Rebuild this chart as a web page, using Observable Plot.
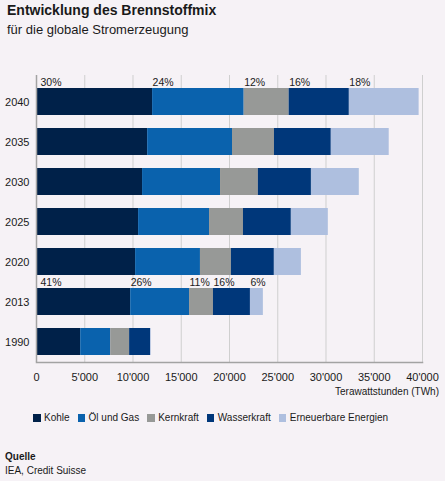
<!DOCTYPE html>
<html>
<head>
<meta charset="utf-8">
<script src="https://cdn.jsdelivr.net/npm/d3@7"></script>
<script src="https://cdn.jsdelivr.net/npm/@observablehq/plot@0.6"></script>
<style>
  html, body { margin: 0; padding: 0; background: #f6f2f6; }
  body { width: 445px; height: 481px; position: relative; overflow: hidden;
         font-family: "Liberation Sans", Arial, Helvetica, sans-serif; color: #1a1a1a; }
  .abs { position: absolute; white-space: nowrap; }
  #title { left: 7px; top: 2px; font-size: 14px; font-weight: bold; line-height: 16px; }
  #subtitle { left: 7px; top: 22px; font-size: 13px; line-height: 16px; }
  #chart { position: absolute; left: 0; top: 0; }
  #xlabel { right: 6px; top: 386px; font-size: 10px; line-height: 12px; }
  #legend { left: 33px; top: 412px; display: flex; align-items: center; font-size: 10px; line-height: 12px; }
  #legend .item { display: flex; align-items: center; margin-right: 8px; }
  #legend .sw { width: 7.5px; height: 7.5px; margin-right: 3.5px; }
  #srcHead { left: 5px; top: 451px; font-size: 10px; font-weight: bold; line-height: 12px; }
  #srcText { left: 5px; top: 465px; font-size: 10px; line-height: 12px; }
</style>
</head>
<body>
<div id="chart"></div>
<div class="abs" id="title">Entwicklung des Brennstoffmix</div>
<div class="abs" id="subtitle">für die globale Stromerzeugung</div>
<div class="abs" id="xlabel">Terawattstunden (TWh)</div>
<div class="abs" id="legend"></div>
<div class="abs" id="srcHead">Quelle</div>
<div class="abs" id="srcText">IEA, Credit Suisse</div>
<script>
// ---- data ----
const years = ["2040", "2035", "2030", "2025", "2020", "2013", "1990"];
const categories = ["Kohle", "Öl und Gas", "Kernkraft", "Wasserkraft", "Erneuerbare Energien"];
const kohle       = [12030, 11520, 10990, 10580, 10270, 9760, 4580];
const oelGas      = [9490, 8790, 8080, 7350, 6720, 6100, 3110];
const kernkraft   = [4660, 4350, 3920, 3520, 3210, 2480, 1960];
const wasserkraft = [6240, 5890, 5500, 4960, 4450, 3830, 2170];
const erneuerbare = [7230, 6000, 4960, 3830, 2800, 1340, 70];
const pct2040 = ["30%", "24%", "12%", "16%", "18%"];
const pct2013 = ["41%", "26%", "11%", "16%", "6%"];
const xTicks = [0, 5000, 10000, 15000, 20000, 25000, 30000, 35000, 40000];

const palette = ["#002149", "#0a62ad", "#979997", "#00377a", "#aebfdf"];

// ---- build table ----
const series = [kohle, oelGas, kernkraft, wasserkraft, erneuerbare];
const rows = [];
years.forEach((y, i) => {
  categories.forEach((c, j) => {
    let label = null;
    if (y === "2040") label = pct2040[j];
    if (y === "2013") label = pct2013[j];
    rows.push({year: y, cat: c, value: series[j][i], label, first: j === 0});
  });
});
const labelRows = rows.filter(d => d.label !== null);

const swiss = d3.formatLocale({decimal: ".", thousands: "'", grouping: [3], currency: ["", ""]});
const fmt = swiss.format(",d");

const font = "'Liberation Sans', Arial, Helvetica, sans-serif";

const chart = Plot.plot({
  width: 445,
  height: 400,
  marginTop: 75,
  marginBottom: 38,
  marginLeft: 36,
  marginRight: 23,
  style: {background: "transparent", fontFamily: font, color: "#1a1a1a"},
  x: {domain: [0, 40000], ticks: xTicks},
  y: {domain: years, range: [88, 355], paddingInner: 0.325, paddingOuter: 0},
  color: {domain: categories, range: palette},
  marks: [
    Plot.gridX(xTicks.slice(1), {stroke: "#cfcfcf", strokeOpacity: 1, strokeWidth: 1}),
    Plot.barX(rows, {y: "year", x: "value", fill: "cat", z: "cat"}),
    Plot.text(labelRows.filter(d => d.first), Plot.stackX1({
      y: "year", x: "value", z: "cat", text: "label",
      textAnchor: "start", lineAnchor: "middle", dy: -19.5, dx: 4,
      fontSize: 10.5, fill: "#1a1a1a"
    })),
    Plot.text(labelRows, Plot.stackX1({
      y: "year", x: "value", z: "cat", text: d => d.first ? "" : d.label,
      textAnchor: "start", lineAnchor: "middle", dy: -19.5, dx: 0,
      fontSize: 10.5, fill: "#1a1a1a"
    })),
    Plot.ruleX([0], {stroke: "#a3a3a3", strokeWidth: 1.5}),
    Plot.frame({anchor: "bottom", stroke: "#a3a3a3", strokeWidth: 1.5}),
    Plot.axisY({tickSize: 0, tickPadding: 7, fontSize: 11, label: null}),
    Plot.axisX({ticks: xTicks, tickFormat: fmt, tickSize: 0, tickPadding: 11, fontSize: 11, label: null})
  ]
});
document.getElementById("chart").appendChild(chart);

// ---- legend ----
const legend = document.getElementById("legend");
categories.forEach((c, j) => {
  const item = document.createElement("div");
  item.className = "item";
  const sw = document.createElement("div");
  sw.className = "sw";
  sw.style.background = palette[j];
  const t = document.createElement("span");
  t.textContent = c;
  item.appendChild(sw);
  item.appendChild(t);
  legend.appendChild(item);
});
</script>
</body>
</html>
